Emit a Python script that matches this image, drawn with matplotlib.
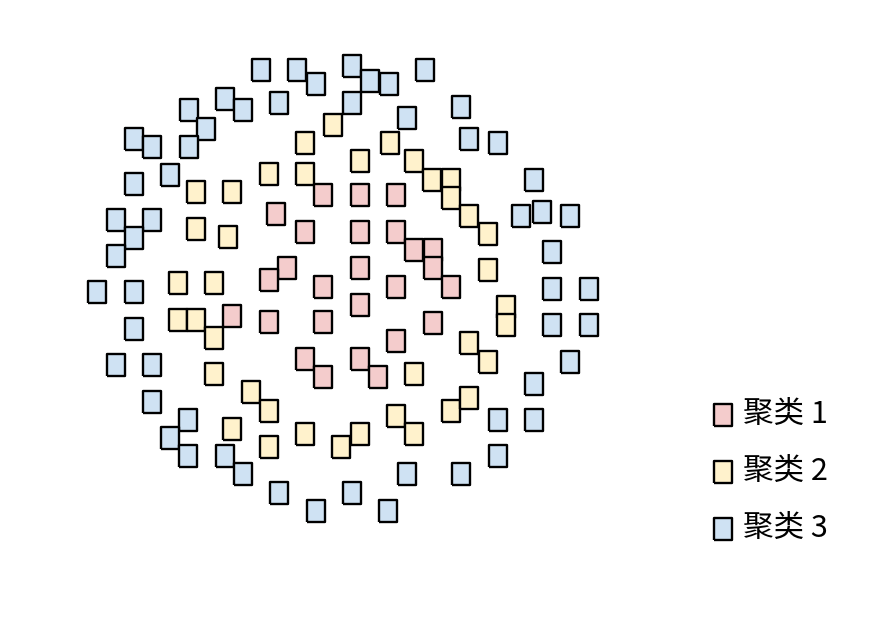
import numpy as np
import matplotlib
matplotlib.use('Agg')
import matplotlib.pyplot as plt

plt.rcParams['font.family'] = ['Noto Sans CJK SC', 'DejaVu Sans']

# Point positions (x right, y down in picture units)
c1_x = [323, 360, 396, 276, 305, 360, 396, 414, 433, 433, 360, 287, 269, 323, 396, 451,
        232, 269, 323, 360, 433, 396, 305, 323, 360, 378]
c1_y = [195, 195, 195, 214, 232, 232, 232, 250, 250, 268, 268, 268, 280, 287, 287, 287,
        316, 322, 322, 305, 323, 341, 359, 377, 359, 377]

c2_x = [333, 305, 390, 360, 414, 432, 451, 451, 269, 305, 196, 232, 196, 228, 469, 488,
        488, 178, 214, 178, 196, 214, 214, 506, 506, 469, 488, 414, 251, 269, 232, 269,
        305, 341, 360, 396, 414, 451, 469]
c2_y = [125, 143, 143, 161, 161, 180, 180, 198, 174, 174, 192, 192, 229, 237, 216, 234,
        270, 283, 283, 320, 320, 338, 374, 307, 325, 343, 362, 374, 392, 411, 429, 447,
        434, 447, 434, 416, 434, 411, 398]

c3_x = [261, 297, 316, 352, 370, 389, 425, 225, 243, 279, 352, 189, 407, 461, 206, 134,
        152, 189, 469, 498, 170, 134, 534, 116, 152, 134, 116, 521, 542, 570, 552, 97,
        134, 552, 589, 134, 552, 589, 116, 152, 570, 152, 534, 188, 170, 188, 225, 243,
        279, 316, 352, 388, 407, 461, 498, 498, 534]
c3_y = [70, 70, 84, 66, 81, 84, 70, 99, 110, 103, 103, 110, 118, 107, 129, 139,
        147, 147, 139, 143, 175, 184, 180, 220, 220, 238, 256, 216, 212, 216, 252, 292,
        292, 289, 289, 329, 325, 325, 365, 365, 362, 402, 384, 420, 438, 456, 456, 474,
        493, 511, 493, 511, 474, 474, 456, 420, 420]

labels = ['聚类 1', '聚类 2', '聚类 3']
colors = ['#F4CCCC', '#FFF2CC', '#CFE2F3']

# tall rectangle marker
rect = [(-0.4, -0.5), (0.4, -0.5), (0.4, 0.5), (-0.4, 0.5), (-0.4, -0.5)]

fig = plt.figure(figsize=(8.9, 6.32), dpi=100)
ax = fig.add_axes([0, 0, 1, 1])

for xs, ys, col, lab in zip([c3_x, c2_x, c1_x], [c3_y, c2_y, c1_y],
                            colors[::-1], labels[::-1]):
    ax.scatter(xs, ys, marker=rect, s=250, facecolor=col, edgecolor='black',
               linewidth=1.7, label=lab)

ax.set_xlim(0, 890)
ax.set_ylim(632, 0)
ax.axis('off')

handles, labs = ax.get_legend_handles_labels()
leg = ax.legend(handles[::-1], labs[::-1], loc='center left',
                bbox_to_anchor=(0.799, 0.254), frameon=False, fontsize=22,
                labelspacing=0.85, handlelength=0.8, handletextpad=0.25,
                borderpad=0, borderaxespad=0, markerscale=1.0)

fig.savefig('out.png', dpi=100)
